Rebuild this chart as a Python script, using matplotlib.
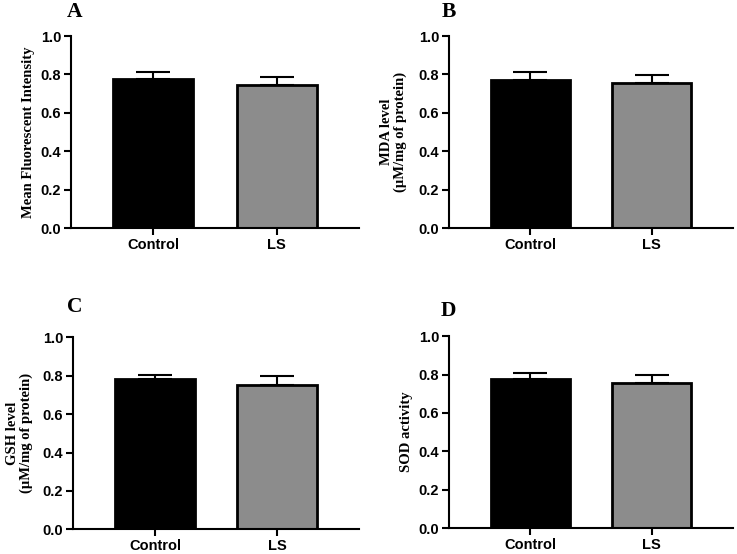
import matplotlib
matplotlib.use("Agg")
import matplotlib.pyplot as plt

categories = ["Control", "LS"]
panel_letters = ["A", "B", "C", "D"]
ylabels = ["Mean Fluorescent Intensity",
           "MDA level\n(\u00b5M/mg of protein)",
           "GSH level\n(\u00b5M/mg of protein)",
           "SOD activity"]
means_A = [0.776, 0.745]
err_A = [0.034, 0.040]
means_B = [0.770, 0.753]
err_B = [0.040, 0.042]
means_C = [0.781, 0.752]
err_C = [0.024, 0.045]
means_D = [0.776, 0.757]
err_D = [0.031, 0.040]
yticks = [0.0, 0.2, 0.4, 0.6, 0.8, 1.0]
bar_colors = ["#000000", "#8c8c8c"]

fig = plt.figure(figsize=(7.37, 5.54), dpi=100)

positions = [
    (71, 359, 36, 228),
    (449, 733, 36, 228),
    (73, 359, 337.3, 529.3),
    (449, 733, 336.3, 528),
]
letter_pos = [(67, 17), (442, 17), (67, 312), (441, 316)]
label_pads = [4, 8.5, 7, 4]
data = [(means_A, err_A), (means_B, err_B), (means_C, err_C), (means_D, err_D)]
W, H = 737, 554

tick_font = dict(family="Liberation Sans", weight="bold", size=10.5)
label_font = dict(family="Liberation Serif", weight="bold", size=10.5)

for i, ((l, r, t, b), (m, e)) in enumerate(zip(positions, data)):
    ax = fig.add_axes([l / W, 1 - b / H, (r - l) / W, (b - t) / H])
    x = list(range(len(categories)))
    ax.bar(x, m, width=0.65, color=bar_colors, edgecolor="black", linewidth=2, zorder=2)
    ax.errorbar(x, m, yerr=[[0, 0], e], fmt="none", ecolor="black",
                elinewidth=1.5, capsize=12, capthick=1.5, zorder=1)
    ax.set_xlim(-0.67, 1.67)
    ax.set_ylim(0, 1.0)
    ax.set_yticks(yticks)
    ax.set_yticklabels([f"{v:.1f}" for v in yticks], fontdict=tick_font)
    ax.set_xticks(x)
    ax.set_xticklabels(categories, fontdict=tick_font)
    ax.spines["top"].set_visible(False)
    ax.spines["right"].set_visible(False)
    ax.spines["left"].set_linewidth(1.5)
    ax.spines["bottom"].set_linewidth(1.5)
    ax.tick_params(axis="both", width=1.5, length=5, direction="out", pad=2)
    ax.set_ylabel(ylabels[i], fontdict=label_font, labelpad=label_pads[i], linespacing=1.0)
    lx, ly = letter_pos[i]
    fig.text(lx / W, 1 - ly / H, panel_letters[i], family="Liberation Serif",
             weight="bold", size=15.5, ha="left", va="baseline")

fig.savefig("out.png", dpi=100)
